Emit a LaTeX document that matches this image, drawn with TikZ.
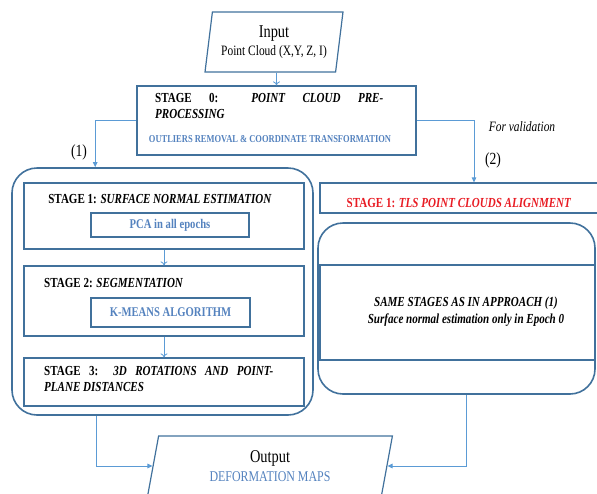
\documentclass[tikz,border=0pt]{standalone}
\usepackage{fontspec}
\setmainfont{Liberation Serif}[FakeStretch=0.8]
\usetikzlibrary{shapes.geometric,arrows.meta,positioning}
\definecolor{lineblue}{RGB}{65,113,156}
\definecolor{arrowblue}{RGB}{91,155,213}
\definecolor{textblue}{RGB}{84,130,190}
\definecolor{stagered}{RGB}{232,28,36}

\begin{document}
\begin{tikzpicture}[x=1pt,y=-1pt,
        box/.style={draw=lineblue, line width=1.2pt, inner sep=0pt},
        big/.style={draw=lineblue, line width=1.6pt, rounded corners=25pt, inner sep=0pt},
        io/.style={draw=lineblue, line width=1.2pt, trapezium, trapezium left angle=79,
                   trapezium right angle=101, trapezium stretches=true, align=center, inner sep=0pt},
        conn/.style={draw=arrowblue, line width=1pt, -{Triangle[length=5pt,width=4.5pt]}},
        link/.style={draw=arrowblue, line width=0.8pt, -{To[length=4pt,width=7pt]}},
        stg/.style={font=\fontsize{13.8}{16.5}\selectfont\bfseries, inner sep=0pt},
        sub/.style={font=\fontsize{13.3}{15}\selectfont\bfseries, text=textblue}]
    \useasboundingbox (0,0) rectangle (597,493);

    % input / output
    \node[io, minimum width=138pt, minimum height=60pt] (input) at (274,42)
        {\fontsize{18}{20}\selectfont Input\\[3pt]\fontsize{14.3}{15}\selectfont Point Cloud (X,Y, Z, I)};
    \node[io, minimum width=245pt, minimum height=60pt] (output) at (270,466)
        {\fontsize{18}{20}\selectfont Output\\[4pt]\fontsize{14.9}{16}\selectfont\color{textblue}DEFORMATION MAPS};

    % stage 0
    \node[box, minimum width=279pt, minimum height=69pt] (s0) at (276.5,120.5) {};
    \node[stg, text width=228pt, align=justify, anchor=north west] (s0t) at (155,93)
        {STAGE 0: \textit{POINT CLOUD PRE-}\linebreak\textit{PROCESSING}};
    \node[sub, font=\fontsize{10.6}{12}\selectfont\bfseries] (s0s) at (270,139)
        {OUTLIERS REMOVAL \& COORDINATE TRANSFORMATION};

    % approach (1)
    \node[big, minimum width=301pt, minimum height=247pt] (appr1) at (162.5,291.5) {};
    \node[box, minimum width=280pt, minimum height=66pt] (s1) at (164,216) {};
    \node[stg] (s1t) at (160,199) {STAGE 1: \textit{SURFACE NORMAL ESTIMATION}};
    \node[box, sub, minimum width=158pt, minimum height=24pt] (pca) at (170,225) {PCA in all epochs};
    \node[box, minimum width=280pt, minimum height=70pt] (s2) at (164,301) {};
    \node[stg, anchor=west] (s2t) at (44,283) {STAGE 2: \textit{SEGMENTATION}};
    \node[box, sub, minimum width=159pt, minimum height=29pt] (kmeans) at (170.5,312.5) {K-MEANS ALGORITHM};
    \node[box, minimum width=280pt, minimum height=48pt] (s3) at (164,382) {};
    \node[stg, text width=229pt, align=justify, anchor=north west] (s3t) at (44,366)
        {STAGE 3: \textit{3D ROTATIONS AND POINT-}\linebreak\textit{PLANE DISTANCES}};

    % approach (2)
    \node[box, minimum width=278pt, minimum height=30pt] (tls) at (459,198) {};
    \node[stg, text=stagered] (tlst) at (459,203) {STAGE 1: \textit{TLS POINT CLOUDS ALIGNMENT}};
    \node[big, minimum width=277pt, minimum height=171pt] (appr2) at (456.5,308.5) {};
    \node[box, minimum width=275pt, minimum height=95pt] (same) at (457.5,312.5) {};
    \node[font=\fontsize{13.8}{17}\selectfont\bfseries\itshape, align=center] (samet) at (466,311.5)
        {SAME STAGES AS IN APPROACH (1)\\Surface normal estimation only in Epoch 0};

    % labels
    \node[font=\fontsize{17}{18}\selectfont] (lab1) at (79,152) {(1)};
    \node[font=\fontsize{17}{18}\selectfont] (lab2) at (493,160) {(2)};
    \node[font=\fontsize{14.3}{15}\selectfont\itshape] (valid) at (522,127) {For validation};

    \draw[link] (input.south -| s0.north) -- (s0.north);
    \draw[conn] (s0.west) -| ([xshift=84pt]appr1.north west);
    \draw[conn] (s0.east) -| ([xshift=15pt]tls.north);
    \draw[link] (s1.south) -- (s2.north);
    \draw[link] (s2.south) -- (s3.north);
    \draw[conn] ([xshift=85pt]appr1.south west) |- (output.west);
    \draw[conn] ([xshift=10pt]appr2.south) |- (output.east);
\end{tikzpicture}
\end{document}
